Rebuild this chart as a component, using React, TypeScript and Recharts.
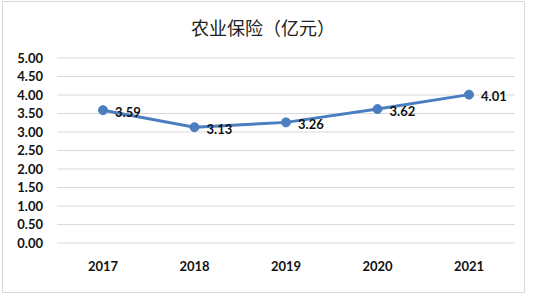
import { LineChart, Line, XAxis, YAxis, CartesianGrid, LabelList } from "recharts";

const years = ["2017", "2018", "2019", "2020", "2021"];
const premiums = [3.59, 3.13, 3.26, 3.62, 4.01];
const yTicks = [0, 0.5, 1, 1.5, 2, 2.5, 3, 3.5, 4, 4.5, 5];

const chartData = years.map((year, i) => ({ year, value: premiums[i] }));

const font = "Lato, 'Open Sans', sans-serif";

export default function App() {
  return (
    <div style={{ position: "absolute", left: 0, top: 0, width: 533, height: 294, background: "#fff" }}>
      <div
        style={{
          position: "absolute",
          left: 2,
          top: 1,
          width: 521,
          height: 290,
          border: "1px solid #d9d9d9",
        }}
      />
      <div
        style={{
          position: "absolute",
          left: 0,
          width: 526,
          top: 14,
          textAlign: "center",
          fontFamily: "'Noto Sans CJK SC', sans-serif",
          fontSize: 18,
          lineHeight: "26px",
          color: "#222",
        }}
      >
        农业保险（亿元）
      </div>
      <div style={{ position: "absolute", left: 0, top: 0 }}>
        <LineChart width={533} height={294} data={chartData} margin={{ top: 58, right: 18, bottom: 0, left: 0 }}>
          <CartesianGrid vertical={false} stroke="#d9d9d9" strokeWidth={1} />
          <XAxis
            dataKey="year"
            axisLine={false}
            tickLine={false}
            height={51}
            tickSize={0}
            tickMargin={19}
            interval={0}
            padding={{ left: 46, right: 46 }}
            tick={{ fill: "#111", fontSize: 13, fontWeight: 700, fontFamily: font }}
          />
          <YAxis
            domain={[0, 5]}
            ticks={yTicks}
            interval={0}
            width={57}
            axisLine={false}
            tickLine={false}
            tickSize={0}
            tickMargin={14}
            tickFormatter={(v: number) => v.toFixed(2)}
            tick={{ fill: "#111", fontSize: 13, fontWeight: 700, fontFamily: font }}
          />
          <Line
            dataKey="value"
            stroke="#4a7ec0"
            strokeWidth={3}
            dot={{ r: 4.5, fill: "#4a7ec0", stroke: "#4a7ec0", strokeWidth: 1 }}
            isAnimationActive={false}
          >
            <LabelList
              dataKey="value"
              position="right"
              offset={12}
              formatter={(v: number) => v.toFixed(2)}
              style={{ fill: "#111", fontSize: 13, fontWeight: 700, fontFamily: font }}
              dy={2}
            />
          </Line>
        </LineChart>
      </div>
    </div>
  );
}
